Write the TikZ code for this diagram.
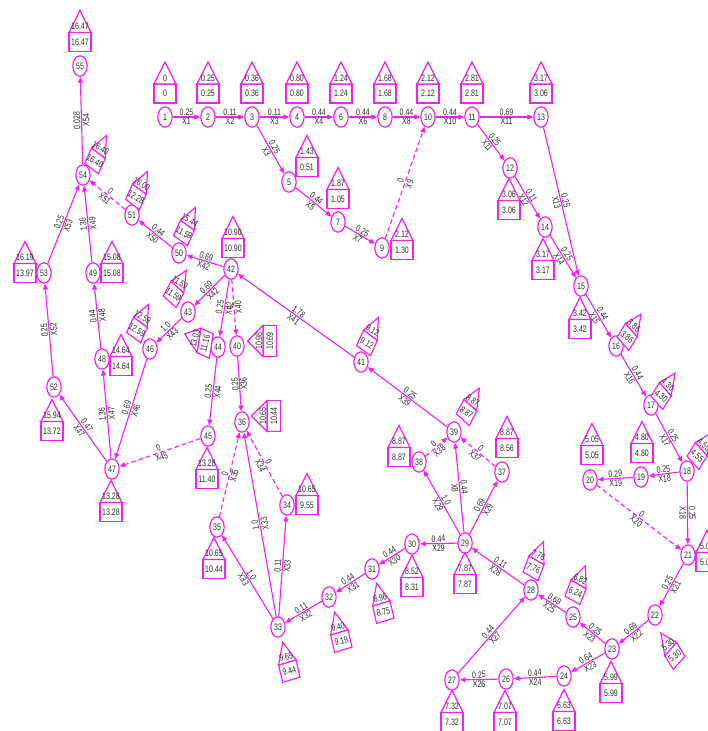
\documentclass[tikz,border=0pt]{standalone}
\usepackage{fontspec}
\setmainfont{Liberation Sans}[FakeStretch=0.75]
\usetikzlibrary{shapes.geometric,arrows.meta}
\definecolor{mag}{RGB}{245,30,245}
\definecolor{txt}{RGB}{45,45,45}
\tikzset{
 nd/.style={ellipse, draw=mag, line width=1pt, fill=white, minimum width=0.43cm, minimum height=0.61cm, inner sep=0pt, font=\fontsize{8}{9}\selectfont, text=txt},
 e/.style={draw=mag, line width=0.95pt, -{Triangle[length=5pt,width=4.2pt]}},
 dsh/.style={dash pattern=on 4pt off 2.5pt},
 lab/.style={sloped, font=\fontsize{8}{9}\selectfont, text=txt, inner sep=0.7pt},
 va/.style={lab, above},
 vb/.style={lab, below},
 vaU/.style={lab, above, allow upside down},
 vbU/.style={lab, below, allow upside down},
 hbox/.style={draw=mag, fill=white, line width=1pt},
 htext/.style={font=\fontsize{8}{9}\selectfont, text=txt, inner sep=0pt},
 pics/house/.style n args={3}{code={%
   \pgfmathsetmacro\hsx{(22/(22*abs(cos(#1))+41*abs(sin(#1))))^0.55}%
   \pgfmathsetmacro\hsy{(41/(22*abs(sin(#1))+41*abs(cos(#1))))^0.55}%
   \begin{scope}[x=0.03cm,y=0.03cm,xscale=\hsx,yscale=\hsy,rotate=#1]
     \filldraw[hbox] (-11,-20.5) rectangle (11,-1.5);
     \filldraw[hbox] (-11,-1.5) -- (0,20.5) -- (11,-1.5) -- cycle;
     \node[htext,rotate=#1] at (0,4.5) {#2};
     \node[htext,rotate=#1] at (0,-11) {#3};
   \end{scope}
 }}
}
\begin{document}
\begin{tikzpicture}[x=0.03cm,y=-0.03cm]
\useasboundingbox (0,0) rectangle (708,731);
\fill[white] (0,0) rectangle (708,731);
\clip (0,0) rectangle (708,731);

\node[nd] (n1) at (165,117) {1};
\node[nd] (n2) at (208,117) {2};
\node[nd] (n3) at (252,117) {3};
\node[nd] (n4) at (297,117) {4};
\node[nd] (n6) at (341,117) {6};
\node[nd] (n8) at (385,117) {8};
\node[nd] (n10) at (428,117) {10};
\node[nd] (n11) at (472,117) {11};
\node[nd] (n13) at (541,117) {13};
\node[nd] (n5) at (289,182) {5};
\node[nd] (n7) at (338,222) {7};
\node[nd] (n9) at (382,248) {9};
\node[nd] (n12) at (510,168) {12};
\node[nd] (n14) at (545,227) {14};
\node[nd] (n15) at (581,286) {15};
\node[nd] (n16) at (616,346) {16};
\node[nd] (n17) at (651,405) {17};
\node[nd] (n18) at (687,471) {18};
\node[nd] (n19) at (641,477) {19};
\node[nd] (n20) at (590,480) {20};
\node[nd] (n21) at (688,555) {21};
\node[nd] (n22) at (655,615) {22};
\node[nd] (n23) at (612,649) {23};
\node[nd] (n24) at (564,676) {24};
\node[nd] (n25) at (573,617) {25};
\node[nd] (n26) at (506,679) {26};
\node[nd] (n27) at (452,680) {27};
\node[nd] (n28) at (531,590) {28};
\node[nd] (n29) at (465,543) {29};
\node[nd] (n30) at (412,544) {30};
\node[nd] (n31) at (372,569) {31};
\node[nd] (n32) at (329,597) {32};
\node[nd] (n33) at (278,627) {33};
\node[nd] (n34) at (287,505) {34};
\node[nd] (n35) at (217,527) {35};
\node[nd] (n36) at (242,422) {36};
\node[nd] (n37) at (502,472) {37};
\node[nd] (n38) at (419,462) {38};
\node[nd] (n39) at (454,432) {39};
\node[nd] (n40) at (237,346) {40};
\node[nd] (n41) at (361,362) {41};
\node[nd] (n42) at (231,269) {42};
\node[nd] (n43) at (188,312) {43};
\node[nd] (n44) at (218,347) {44};
\node[nd] (n45) at (208,436) {45};
\node[nd] (n46) at (150,349) {46};
\node[nd] (n47) at (112,469) {47};
\node[nd] (n48) at (102,359) {48};
\node[nd] (n49) at (93,273) {49};
\node[nd] (n50) at (179,253) {50};
\node[nd] (n51) at (132,215) {51};
\node[nd] (n52) at (54,387) {52};
\node[nd] (n53) at (44,273) {53};
\node[nd] (n54) at (83,175) {54};
\node[nd] (n55) at (80,66) {55};

% edges
\draw[e] (n1) -- node[va]{0.25} node[vb]{X1} (n2);
\draw[e] (n2) -- node[va]{0.11} node[vb]{X2} (n3);
\draw[e] (n3) -- node[va]{0.11} node[vb]{X3} (n4);
\draw[e] (n4) -- node[va]{0.44} node[vb]{X4} (n6);
\draw[e] (n6) -- node[va]{0.44} node[vb]{X6} (n8);
\draw[e] (n8) -- node[va]{0.44} node[vb]{X8} (n10);
\draw[e] (n10) -- node[va]{0.44} node[vb]{X10} (n11);
\draw[e] (n11) -- node[va]{0.69} node[vb]{X11} (n13);
\draw[e] (n3) -- node[va]{0.25} node[vb]{X3} (n5);
\draw[e] (n5) -- node[va]{0.44} node[vb]{X5} (n7);
\draw[e] (n7) -- node[va]{0.25} node[vb]{X7} (n9);
\draw[e,dsh] (n9) -- node[va]{0} node[vb]{X9} (n10);
\draw[e] (n11) -- node[va]{0.25} node[vb]{X11} (n12);
\draw[e] (n12) -- node[va]{0.11} node[vb]{X12} (n14);
\draw[e] (n13) -- node[va]{0.25} node[vb]{X13} (n15);
\draw[e] (n14) -- node[va]{0.25} node[vb]{X14} (n15);
\draw[e] (n15) -- node[va]{0.44} node[vb]{X15} (n16);
\draw[e] (n16) -- node[va]{0.44} node[vb]{X16} (n17);
\draw[e] (n17) -- node[va]{0.25} node[vb]{X17} (n18);
\draw[e] (n18) -- node[va]{0.25} node[vb]{X18} (n19);
\draw[e] (n19) -- node[va]{0.29} node[vb]{X19} (n20);
\draw[e] (n18) -- node[va]{0.25} node[vb]{X18} (n21);
\draw[e,dsh] (n20) -- node[va]{0} node[vb]{X20} (n21);
\draw[e] (n21) -- node[va]{0.25} node[vb]{X21} (n22);
\draw[e] (n22) -- node[va]{0.69} node[vb]{X22} (n23);
\draw[e] (n23) -- node[va]{0.25} node[vb]{X23} (n25);
\draw[e] (n23) -- node[va]{0.64} node[vb]{X23} (n24);
\draw[e] (n25) -- node[va]{0.69} node[vb]{X25} (n28);
\draw[e] (n24) -- node[va]{0.44} node[vb]{X24} (n26);
\draw[e] (n26) -- node[va]{0.25} node[vb]{X26} (n27);
\draw[e] (n27) -- node[va]{0.44} node[vb]{X27} (n28);
\draw[e] (n28) -- node[va]{0.11} node[vb]{X28} (n29);
\draw[e] (n29) -- node[va]{0.44} node[vb]{X29} (n30);
\draw[e] (n30) -- node[va]{0.44} node[vb]{X30} (n31);
\draw[e] (n31) -- node[va]{0.44} node[vb]{X31} (n32);
\draw[e] (n32) -- node[va]{0.11} node[vb]{X32} (n33);
\draw[e] (n33) -- node[va]{0.11} node[vb]{X33} (n34);
\draw[e] (n33) -- node[va]{1.0} node[vb]{X33} (n35);
\draw[e] (n33) -- node[vaU]{1.0} node[vbU]{X33} (n36);
\draw[e,dsh] (n34) -- node[va]{0} node[vb]{X34} (n36);
\draw[e,dsh] (n35) -- node[va]{0} node[vb]{X35} (n36);
\draw[e] (n40) -- (n36);
\path (n36) -- node[vaU]{0.25} node[vbU]{X36} (n40);
\draw[e] (n29) -- node[va]{0.69} node[vb]{X29} (n37);
\draw[e] (n29) -- node[va]{1.0} node[vb]{X29} (n38);
\draw[e] (n29) -- node[va]{0.44} node[vb]{X8} (n39);
\draw[e,dsh] (n37) -- node[va]{0} node[vb]{X37} (n39);
\draw[e,dsh] (n38) -- node[va]{0} node[vb]{X38} (n39);
\draw[e] (n39) -- node[va]{0.25} node[vb]{X39} (n41);
\draw[e] (n41) -- node[va]{1.78} node[vb]{X41} (n42);
\draw[e,dsh] (n42) -- (n40);
\path (n40) -- node[vaU]{0} node[vbU]{X40} (n42);
\draw[e] (n42) -- node[va]{0.69} node[vb]{X42} (n50);
\draw[e] (n42) -- node[va]{0.69} node[vb]{X42} (n43);
\draw[e] (n42) -- node[va]{0.25} node[vb]{X42} (n44);
\draw[e] (n44) -- node[va]{0.25} node[vb]{X44} (n45);
\draw[e] (n43) -- node[va]{1.0} node[vb]{X43} (n46);
\draw[e,dsh] (n45) -- node[va]{0} node[vb]{X45} (n47);
\draw[e] (n46) -- node[va]{0.69} node[vb]{X46} (n47);
\draw[e] (n47) -- node[vaU]{1.36} node[vbU]{X47} (n48);
\draw[e] (n47) -- node[va]{0.47} node[vb]{X47} (n52);
\draw[e] (n48) -- node[vaU]{0.44} node[vbU]{X48} (n49);
\draw[e] (n49) -- node[vaU]{1.36} node[vbU]{X49} (n54);
\draw[e] (n52) -- node[vaU]{0.25} node[vbU]{X52} (n53);
\draw[e] (n53) -- node[va]{0.25} node[vb]{X53} (n54);
\draw[e] (n50) -- node[va]{0.44} node[vb]{X50} (n51);
\draw[e,dsh] (n51) -- node[va]{0} node[vb]{X51} (n54);
\draw[e] (n54) -- node[vaU]{0.028} node[vbU]{X54} (n55);

% houses
\pic at (165,82.5) {house={0}{0}{0}};
\pic at (208,82.5) {house={0}{0.25}{0.25}};
\pic at (252,82.5) {house={0}{0.36}{0.36}};
\pic at (297,82.5) {house={0}{0.80}{0.80}};
\pic at (341,82.5) {house={0}{1.24}{1.24}};
\pic at (385,82.5) {house={0}{1.68}{1.68}};
\pic at (428,82.5) {house={0}{2.12}{2.12}};
\pic at (472,82.5) {house={0}{2.81}{2.81}};
\pic at (541,82.5) {house={0}{3.17}{3.06}};
\pic at (80,31) {house={0}{16.47}{16.47}};
\pic at (307,156) {house={0}{1.43}{0.51}};
\pic at (338,188) {house={0}{1.87}{1.05}};
\pic at (402,239) {house={0}{2.12}{1.30}};
\pic at (509,199) {house={0}{3.06}{3.06}};
\pic at (543,259) {house={0}{3.17}{3.17}};
\pic at (580,318) {house={0}{3.42}{3.42}};
\pic at (642,442) {house={0}{4.80}{4.80}};
\pic at (592,444) {house={0}{5.05}{5.05}};
\pic at (707,551) {house={0}{5.05}{5.05}};
\pic at (507,437) {house={0}{8.87}{8.56}};
\pic at (399,446) {house={0}{8.87}{8.87}};
\pic at (112,262) {house={0}{15.08}{15.08}};
\pic at (25,262) {house={0}{16.19}{13.97}};
\pic at (121,355) {house={0}{14.64}{14.64}};
\pic at (233,237) {house={0}{10.90}{10.90}};
\pic at (307,494) {house={0}{10.65}{9.55}};
\pic at (611,682) {house={0}{5.99}{5.99}};
\pic at (564,710) {house={0}{6.63}{6.63}};
\pic at (505,711) {house={0}{7.07}{7.07}};
\pic at (452,711) {house={0}{7.32}{7.32}};
\pic at (465,573) {house={0}{7.87}{7.87}};
\pic at (412,576) {house={0}{8.52}{8.31}};
\pic at (214,558) {house={0}{10.65}{10.44}};
\pic at (207,468) {house={0}{13.28}{11.40}};
\pic at (111,501) {house={0}{13.28}{13.28}};
\pic at (52,420) {house={0}{15.94}{13.72}};
% rotated houses
\pic at (632,329) {house={-40}{3.86}{3.86}};
\pic at (666,388) {house={-40}{4.30}{4.30}};
\pic at (702,448) {house={-40}{4.55}{4.55}};
\pic at (670,648) {house={40}{5.30}{5.30}};
\pic at (579,583) {house={-25}{6.82}{6.24}};
\pic at (537,559) {house={-25}{7.76}{7.76}};
\pic at (381,602) {house={15}{8.96}{8.75}};
\pic at (339,631) {house={15}{9.40}{9.19}};
\pic at (287,661) {house={15}{9.65}{9.44}};
\pic at (266,416) {house={90}{10.65}{10.44}};
\pic at (262,341) {house={90}{10.98}{10.69}};
\pic at (471,404) {house={-35}{8.87}{8.87}};
\pic at (371,334) {house={-30}{9.12}{9.12}};
\pic at (178,286) {house={-35}{11.59}{11.59}};
\pic at (198,340) {house={75}{13.03}{11.16}};
\pic at (141,321) {house={-30}{12.59}{12.59}};
\pic at (188,224) {house={-30}{15.44}{11.59}};
\pic at (140,188) {house={-30}{16.00}{12.28}};
\pic at (99,152) {house={-30}{16.40}{16.40}};
\end{tikzpicture}
\end{document}
